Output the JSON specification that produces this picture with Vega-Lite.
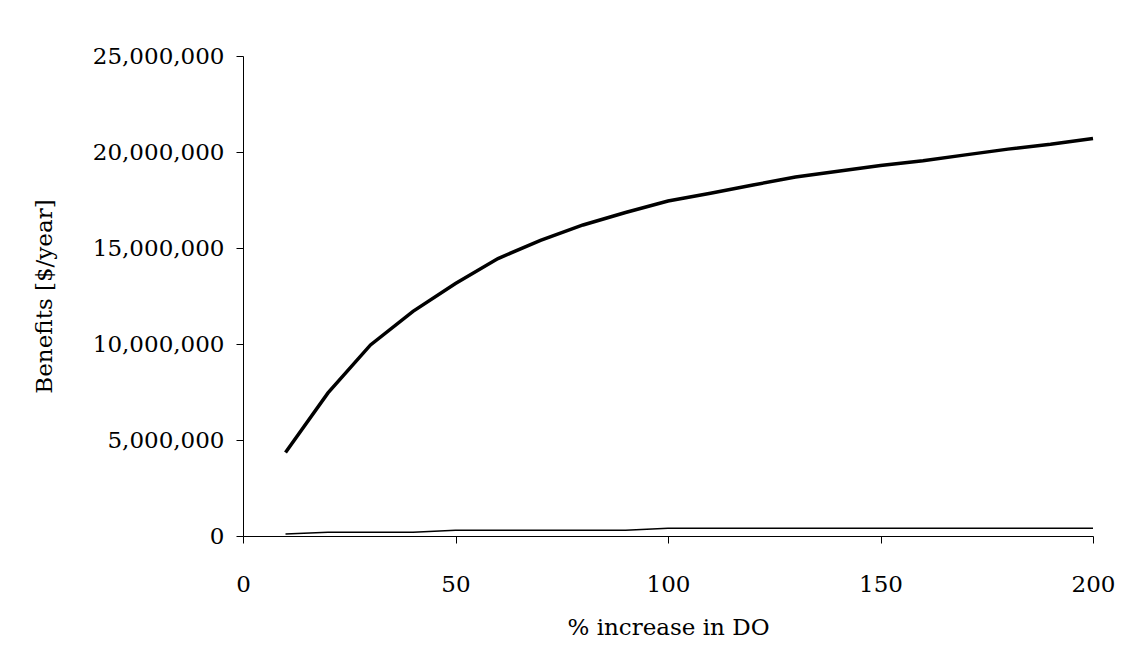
{
  "$schema": "https://vega.github.io/schema/vega-lite/v6.json",
  "autosize": "none",
  "width": 850,
  "height": 480,
  "padding": {"left": 243, "top": 56, "right": 42, "bottom": 134},
  "background": "white",
  "data": {"values": [
    {"x": 10, "s": "a", "y": 4350000}, {"x": 20, "s": "a", "y": 7450000}, {"x": 30, "s": "a", "y": 9950000},
    {"x": 40, "s": "a", "y": 11700000}, {"x": 50, "s": "a", "y": 13150000}, {"x": 60, "s": "a", "y": 14450000},
    {"x": 70, "s": "a", "y": 15400000}, {"x": 80, "s": "a", "y": 16200000}, {"x": 90, "s": "a", "y": 16850000},
    {"x": 100, "s": "a", "y": 17450000}, {"x": 110, "s": "a", "y": 17850000}, {"x": 120, "s": "a", "y": 18280000},
    {"x": 130, "s": "a", "y": 18700000}, {"x": 140, "s": "a", "y": 19000000}, {"x": 150, "s": "a", "y": 19300000},
    {"x": 160, "s": "a", "y": 19550000}, {"x": 170, "s": "a", "y": 19850000}, {"x": 180, "s": "a", "y": 20150000},
    {"x": 190, "s": "a", "y": 20400000}, {"x": 200, "s": "a", "y": 20700000},
    {"x": 10, "s": "b", "y": 100000}, {"x": 20, "s": "b", "y": 200000}, {"x": 30, "s": "b", "y": 200000},
    {"x": 40, "s": "b", "y": 200000}, {"x": 50, "s": "b", "y": 300000}, {"x": 60, "s": "b", "y": 300000},
    {"x": 70, "s": "b", "y": 300000}, {"x": 80, "s": "b", "y": 300000}, {"x": 90, "s": "b", "y": 300000},
    {"x": 100, "s": "b", "y": 400000}, {"x": 110, "s": "b", "y": 400000}, {"x": 120, "s": "b", "y": 400000},
    {"x": 130, "s": "b", "y": 400000}, {"x": 140, "s": "b", "y": 400000}, {"x": 150, "s": "b", "y": 400000},
    {"x": 160, "s": "b", "y": 400000}, {"x": 170, "s": "b", "y": 400000}, {"x": 180, "s": "b", "y": 400000},
    {"x": 190, "s": "b", "y": 400000}, {"x": 200, "s": "b", "y": 400000}
  ]},
  "mark": {"type": "line", "color": "black"},
  "encoding": {
    "x": {"field": "x", "type": "quantitative", "scale": {"domain": [0, 200], "nice": false},
      "axis": {"title": "% increase in DO", "values": [0, 50, 100, 150, 200], "labelPadding": 30, "titlePadding": 20}},
    "y": {"field": "y", "type": "quantitative", "scale": {"domain": [0, 25000000], "nice": false},
      "axis": {"title": "Benefits [$/year]", "values": [0, 5000000, 10000000, 15000000, 20000000, 25000000], "format": ",d", "labelPadding": 12, "titlePadding": 36}},
    "strokeWidth": {"field": "s", "type": "nominal", "scale": {"domain": ["a", "b"], "range": [3.5, 1.5]}, "legend": null},
    "detail": {"field": "s"}
  },
  "config": {
    "view": {"stroke": null},
    "font": "DejaVu Serif",
    "axis": {"grid": false, "domainColor": "black", "tickColor": "black", "tickSize": 7,
      "labelOverlap": false, "labelBound": false, "labelFlush": false,
      "labelFont": "DejaVu Serif", "labelFontSize": 23, "labelColor": "black",
      "titleFont": "DejaVu Serif", "titleFontSize": 23, "titleFontWeight": "normal", "titleColor": "black"}
  }
}
